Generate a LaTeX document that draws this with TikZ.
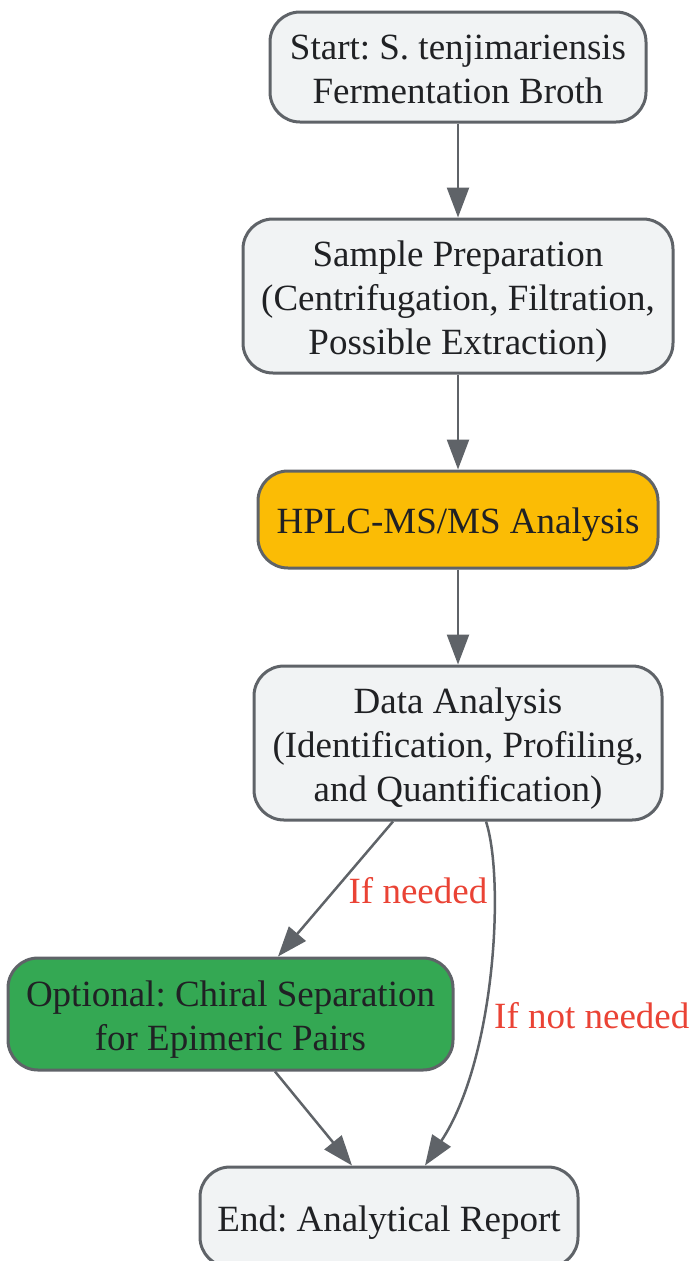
\documentclass[tikz,border=0pt]{standalone}
\usepackage{fontspec}
\setmainfont{Liberation Serif}
\usetikzlibrary{arrows.meta}
\definecolor{edgegray}{HTML}{5F6368}
\definecolor{boxfill}{HTML}{F1F3F4}
\definecolor{hplcfill}{HTML}{FBBC05}
\definecolor{chiralfill}{HTML}{34A853}
\definecolor{labelred}{HTML}{EA4335}
\definecolor{inktext}{HTML}{202124}
\frenchspacing

\begin{document}
\begin{tikzpicture}
                \tikzset{x=1pt, y=-1pt, >={Triangle[length=30pt, width=22pt]}}
                \tikzstyle{step box}=[rectangle, rounded corners=30pt, draw=edgegray, line width=3pt, fill=boxfill, text=inktext, align=center, font=\fontsize{37}{44}\selectfont, inner sep=0pt, text height=28pt, text depth=0pt]
                \tikzstyle{two lines}=[text height=72pt]
                \tikzstyle{three lines}=[text height=116pt]
                \tikzstyle{hplc box}=[step box, fill=hplcfill]
                \tikzstyle{chiral box}=[step box, fill=chiralfill]
                \tikzstyle{flow}=[->, draw=edgegray, line width=2.5pt]
                \tikzstyle{branch}=[text=labelred, font=\fontsize{37}{44}\selectfont, inner sep=0pt]

                \useasboundingbox (0, 0) rectangle (694, 1261);

                \draw (458.0, 67.0)     node[step box, two lines, minimum width=376pt, minimum height=110pt]    (start) {Start: S. tenjimariensis\\Fermentation Broth};
                \draw (458.0, 296.0)    node[step box, three lines, minimum width=430pt, minimum height=154pt]  (prep)  {Sample Preparation\\(Centrifugation, Filtration,\\Possible Extraction)};
                \draw (458.0, 519.5)    node[hplc box, minimum width=400pt, minimum height=97pt]                (hplc)  {HPLC-MS/MS Analysis};
                \draw (458.0, 743.0)    node[step box, three lines, minimum width=408pt, minimum height=154pt]  (data)  {Data Analysis\\(Identification, Profiling,\\and Quantification)};
                \draw (230.5, 1014.0)   node[chiral box, two lines, minimum width=445pt, minimum height=112pt]  (opt)   {Optional: Chiral Separation\\for Epimeric Pairs};
                \draw (389.0, 1217.0)   node[step box, minimum width=378pt, minimum height=100pt]               (end)   {End: Analytical Report};

                \draw (418.0, 891.0)    node[branch]            (need)    {If needed};
                \draw (494.0, 1016.0)   node[branch, anchor=west] (noneed) {If not needed};

                \draw [flow]    (start) -- (prep);
                \draw [flow]    (prep) -- (hplc);
                \draw [flow]    (hplc) -- (data);
                \draw [flow]    ([xshift=-65pt]data.south) -- ([xshift=47.5pt]opt.north);
                \draw [flow]    ([xshift=28pt]data.south) .. controls (505, 880) and (495, 1060) .. ([xshift=36pt]end.north);
                \draw [flow]    ([xshift=44.5pt]opt.south) -- ([xshift=-37pt]end.north);
\end{tikzpicture}
\end{document}
